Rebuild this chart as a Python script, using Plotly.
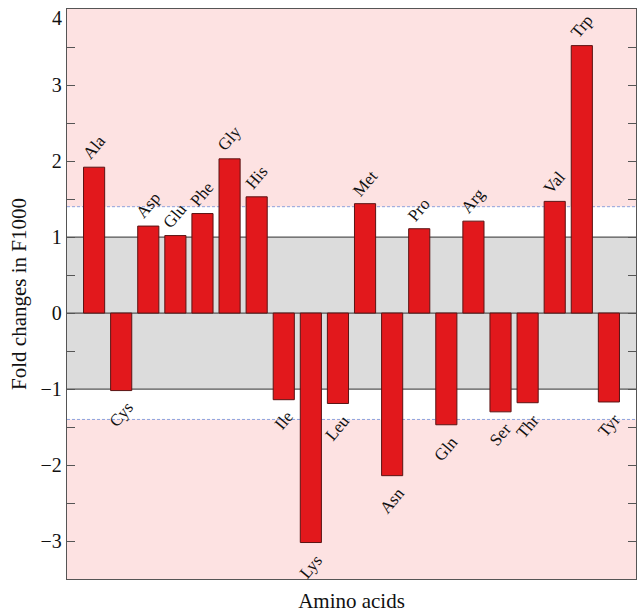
import plotly.graph_objects as go

amino_acids = ["Ala", "Cys", "Asp", "Glu", "Phe", "Gly", "His", "Ile", "Lys", "Leu",
               "Met", "Asn", "Pro", "Gln", "Arg", "Ser", "Thr", "Val", "Trp", "Tyr"]
fold_changes = [1.92, -1.02, 1.145, 1.02, 1.31, 2.03, 1.53, -1.14, -3.02, -1.19,
                1.44, -2.14, 1.11, -1.47, 1.21, -1.30, -1.18, 1.47, 3.52, -1.17]
y_ticks = [-3, -2, -1, 0, 1, 2, 3, 4]
threshold = 1.4
inner = 1.0

SERIF = "Liberation Serif, Times New Roman, serif"

fig = go.Figure()
fig.add_trace(go.Bar(
    x=amino_acids, y=fold_changes, width=0.78,
    marker=dict(color="#e2181c", line=dict(color="#5a1414", width=1)),
    hoverinfo="x+y", showlegend=False,
))

shapes = [
    dict(type="rect", xref="paper", yref="y", x0=0, x1=1, y0=-threshold, y1=threshold,
         fillcolor="white", line=dict(width=0), layer="below"),
    dict(type="rect", xref="paper", yref="y", x0=0, x1=1, y0=-inner, y1=inner,
         fillcolor="#dcdcdc", line=dict(width=0), layer="below"),
]
for yv in (threshold, -threshold):
    shapes.append(dict(type="line", xref="paper", yref="y", x0=0, x1=1, y0=yv, y1=yv,
                       line=dict(color="#8ea2dc", width=1, dash="3px,2px"), layer="below"))
for yv in (inner, 0, -inner):
    shapes.append(dict(type="line", xref="paper", yref="y", x0=0, x1=1, y0=yv, y1=yv,
                       line=dict(color="#555555", width=1.3), layer="below"))

annotations = []
for name, val in zip(amino_acids, fold_changes):
    pos = val >= 0
    annotations.append(dict(
        x=name, y=val, xref="x", yref="y", text=name, showarrow=False,
        textangle=-50, xanchor="center", yanchor="bottom" if pos else "top",
        yshift=1 if pos else -5,
        font=dict(family=SERIF, size=17, color="#111111"),
    ))

# the top tick label sits just inside the frame (as in the reference)
top_tick = y_ticks[-1]
annotations.append(dict(
    x=0, xref="paper", y=top_tick, yref="y", text=str(top_tick), showarrow=False,
    xanchor="right", yanchor="top", xshift=-3, yshift=4,
    font=dict(family=SERIF, size=20, color="#111111"),
))

fig.update_layout(
    width=642, height=616,
    margin=dict(l=67, r=6, t=9, b=37),
    paper_bgcolor="white", plot_bgcolor="#fde2e2",
    shapes=shapes, annotations=annotations,
    font=dict(family=SERIF, color="#111111"),
    xaxis=dict(
        range=[-1, len(amino_acids)], showticklabels=False, ticks="",
        showline=True, linecolor="#555555", linewidth=1.3, mirror=True,
        showgrid=False, zeroline=False, automargin=False,
        title=dict(text="Amino acids", font=dict(family=SERIF, size=21), standoff=14),
    ),
    yaxis=dict(
        range=[-3.5, 4.002], tickvals=y_ticks,
        ticktext=[("" if v == top_tick else ("\u2212" + str(-v) if v < 0 else str(v))) for v in y_ticks],
        ticks="inside", ticklen=8, tickwidth=1, tickcolor="#555555",
        minor=dict(dtick=0.5, tick0=0, ticks="inside", ticklen=8, tickcolor="#555555"),
        showline=True, linecolor="#555555", linewidth=1.3, mirror="ticks",
        showgrid=False, zeroline=False, automargin=False,
        tickfont=dict(family=SERIF, size=20),
        title=dict(text="Fold changes in F1000", font=dict(family=SERIF, size=21), standoff=8),
    ),
)

fig.write_html(
    "out.html",
    config={"displayModeBar": False},
    post_script="document.body.style.margin='0';document.body.style.padding='0';",
)
